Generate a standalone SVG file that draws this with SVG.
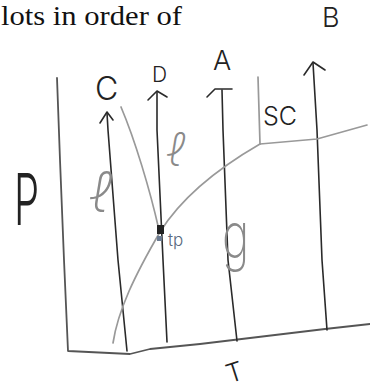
<svg xmlns="http://www.w3.org/2000/svg" width="370" height="392" viewBox="0 0 370 392">
<defs>
<style>
.ax{fill:none;stroke:#555;stroke-width:1.8;stroke-linecap:round;stroke-linejoin:round}
.ln{fill:none;stroke:#2a2a2a;stroke-width:1.6;stroke-linecap:round;stroke-linejoin:round}
.gc{fill:none;stroke:#999;stroke-width:1.7;stroke-linecap:round;stroke-linejoin:round}
.hw{font-family:Inter,"DejaVu Sans",sans-serif;font-weight:300;fill:#222}
.gl{font-family:Inter,"DejaVu Sans",sans-serif;font-weight:200;fill:#8a8a8a}
</style>
</defs>
<rect width="370" height="392" fill="#fff"/>
<text x="1" y="25" font-family="'Liberation Serif',serif" font-size="28" fill="#111" textLength="181" lengthAdjust="spacingAndGlyphs">lots in order of</text>

<g id="axes">
<path class="ax" d="M57,78 L60,160 L64,260 L68,351 L130,354 L150,349 L200,344 L250,338 L325,329 L370,324"/>
</g>

<g id="connectors">
<path class="ln" d="M127,351 L118,260 L108,130 L107,113"/>
<path class="ln" d="M100,123 L107,112 L113,120"/>
<path class="ln" d="M167,342 L163,260 L157,130 L157,92"/>
<path class="ln" d="M148,100 L157,91 L167,97"/>
<path class="ln" d="M237,341 L228,260 L223,130 L222,90"/>
<path class="ln" d="M207,97 L215,89 L232,89"/>
<path class="ln" d="M327,330 L322,260 L317,130 L313,63"/>
<path class="ln" d="M304,75 L313,62 L325,70"/>
<path class="gc" d="M258,77 L260,144"/>
<path class="gc" d="M260,144 L317,139 L367,125"/>
<path class="gc" d="M113,343 C118,310 135,275 160,232 C180,200 215,170 260,144"/>
<path class="gc" d="M121,107 C135,140 150,190 159,230"/>
</g>

<g id="tp">
<rect x="157" y="225" width="7" height="9" fill="#222"/>
<rect x="157" y="236" width="5" height="5" fill="#6a7a90"/>
<text x="168" y="246" font-family="Inter,sans-serif" font-weight="300" font-size="17" fill="#5a6a80">tp</text>
</g>

<g id="labels">
<text class="hw" x="95" y="100" font-size="32">C</text>
<text class="hw" x="152" y="82" font-size="21">D</text>
<text class="hw" x="213" y="70" font-size="27">A</text>
<text class="hw" x="322" y="27" font-size="27">B</text>
<text class="hw" x="263" y="125" font-size="25" fill="#444">SC</text>
<text class="hw" transform="translate(14,225) scale(1,1.8)" font-size="40" fill="#333">P</text>
<text class="hw" transform="translate(237,381) rotate(-18)" x="-8" y="0" font-size="26" fill="#333">T</text>
<text class="gl" x="90" y="212" font-size="56" font-style="italic">ℓ</text>
<text class="gl" x="167" y="166" font-size="46" font-style="italic">ℓ</text>
<text class="gl" transform="translate(222,258) scale(1,1.4)" font-size="46">g</text>
</g>
</svg>
